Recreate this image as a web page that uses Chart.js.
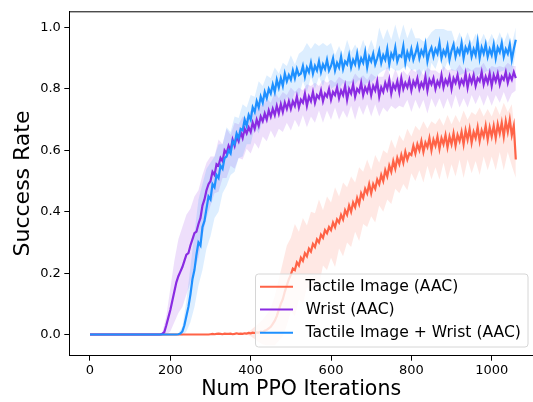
<!DOCTYPE html>
<html>
<head>
<meta charset="utf-8">
<script src="https://cdn.jsdelivr.net/npm/chart.js@4.4.1/dist/chart.umd.min.js"></script>
<style>
  html, body { margin: 0; padding: 0; background: #fff; overflow: hidden; }
  #wrap { width: 533px; height: 402px; }
</style>
</head>
<body>
<div id="wrap"><canvas id="ppoChart" width="533" height="402"></canvas></div>
<script>
// PPO iterations of the line samples (every 5)
const lineIterations = [
  0, 5, 10, 15, 20, 25, 30, 35, 40, 45, 50, 55, 60, 65, 70, 75, 80, 85, 90, 95,
  100, 105, 110, 115, 120, 125, 130, 135, 140, 145, 150, 155, 160, 165, 170, 175, 180, 185, 190, 195,
  200, 205, 210, 215, 220, 225, 230, 235, 240, 245, 250, 255, 260, 265, 270, 275, 280, 285, 290, 295,
  300, 305, 310, 315, 320, 325, 330, 335, 340, 345, 350, 355, 360, 365, 370, 375, 380, 385, 390, 395,
  400, 405, 410, 415, 420, 425, 430, 435, 440, 445, 450, 455, 460, 465, 470, 475, 480, 485, 490, 495,
  500, 505, 510, 515, 520, 525, 530, 535, 540, 545, 550, 555, 560, 565, 570, 575, 580, 585, 590, 595,
  600, 605, 610, 615, 620, 625, 630, 635, 640, 645, 650, 655, 660, 665, 670, 675, 680, 685, 690, 695,
  700, 705, 710, 715, 720, 725, 730, 735, 740, 745, 750, 755, 760, 765, 770, 775, 780, 785, 790, 795,
  800, 805, 810, 815, 820, 825, 830, 835, 840, 845, 850, 855, 860, 865, 870, 875, 880, 885, 890, 895,
  900, 905, 910, 915, 920, 925, 930, 935, 940, 945, 950, 955, 960, 965, 970, 975, 980, 985, 990, 995,
  1000, 1005, 1010, 1015, 1020, 1025, 1030, 1035, 1040, 1045, 1050, 1055, 1060
];

// PPO iterations of the spread samples (every 10)
const bandIterations = [
  0, 10, 20, 30, 40, 50, 60, 70, 80, 90,
  100, 110, 120, 130, 140, 150, 160, 170, 180, 190,
  200, 210, 220, 230, 240, 250, 260, 270, 280, 290,
  300, 310, 320, 330, 340, 350, 360, 370, 380, 390,
  400, 410, 420, 430, 440, 450, 460, 470, 480, 490,
  500, 510, 520, 530, 540, 550, 560, 570, 580, 590,
  600, 610, 620, 630, 640, 650, 660, 670, 680, 690,
  700, 710, 720, 730, 740, 750, 760, 770, 780, 790,
  800, 810, 820, 830, 840, 850, 860, 870, 880, 890,
  900, 910, 920, 930, 940, 950, 960, 970, 980, 990,
  1000, 1010, 1020, 1030, 1040, 1050, 1060
];

const seriesLabels = ['Tactile Image (AAC)', 'Wrist (AAC)', 'Tactile Image + Wrist (AAC)'];

// Tactile Image (AAC) - success rate
const tactileMean = [
  0, 0, 0, 0, 0, 0, 0, 0, 0, 0, 0, 0, 0, 0, 0, 0, 0, 0, 0, 0,
  0, 0, 0, 0, 0, 0, 0, 0, 0, 0, 0, 0, 0, 0, 0, 0, 0, 0, 0, 0,
  0, 0, 0, 0, 0, 0, 0, 0, 0, 0, 0, 0, 0, 0, 0, 0, 0, 0, 0, 0,
  0.001, 0.002, 0.001, 0.002, 0.003, 0.002, 0.001, 0.003, 0.002, 0.002, 0.003, 0.001, 0.002, 0.004, 0.002, 0.003, 0.002, 0.004, 0.003, 0.005,
  0.004, 0.006, 0.005, 0.007, 0.006, 0.009, 0.008, 0.012, 0.015, 0.02, 0.025, 0.035, 0.045, 0.06, 0.08, 0.1, 0.115, 0.14, 0.16, 0.18,
  0.195, 0.215, 0.21, 0.235, 0.225, 0.25, 0.24, 0.265, 0.255, 0.28, 0.27, 0.295, 0.285, 0.31, 0.3, 0.325, 0.315, 0.34, 0.33, 0.35,
  0.34, 0.365, 0.35, 0.375, 0.365, 0.39, 0.375, 0.405, 0.39, 0.42, 0.4, 0.43, 0.415, 0.445, 0.425, 0.46, 0.445, 0.475, 0.46, 0.49,
  0.46, 0.49, 0.475, 0.505, 0.49, 0.52, 0.5, 0.535, 0.515, 0.55, 0.53, 0.565, 0.54, 0.575, 0.555, 0.585, 0.56, 0.595, 0.57, 0.59,
  0.585, 0.615, 0.59, 0.62, 0.6, 0.63, 0.595, 0.625, 0.61, 0.64, 0.6, 0.635, 0.615, 0.645, 0.605, 0.64, 0.62, 0.65, 0.61, 0.645,
  0.62, 0.655, 0.615, 0.65, 0.63, 0.66, 0.62, 0.665, 0.635, 0.67, 0.625, 0.66, 0.64, 0.675, 0.63, 0.665, 0.645, 0.68, 0.635, 0.675,
  0.645, 0.68, 0.64, 0.685, 0.655, 0.69, 0.645, 0.695, 0.66, 0.7, 0.65, 0.68, 0.57
];
const tactileStd = [
  0, 0, 0, 0, 0, 0, 0, 0, 0, 0,
  0, 0, 0, 0, 0, 0, 0, 0, 0, 0,
  0, 0, 0, 0, 0, 0, 0, 0, 0, 0,
  0.001, 0.002, 0.001, 0.002, 0.002, 0.001, 0.002, 0.003, 0.002, 0.003,
  0.01, 0.02, 0.03, 0.04, 0.05, 0.06, 0.08, 0.10, 0.12, 0.13,
  0.12, 0.15, 0.11, 0.14, 0.10, 0.13, 0.11, 0.14, 0.09, 0.12,
  0.09, 0.13, 0.085, 0.12, 0.09, 0.115, 0.08, 0.12, 0.085, 0.11,
  0.075, 0.11, 0.07, 0.1, 0.075, 0.105, 0.065, 0.095, 0.07, 0.1,
  0.06, 0.09, 0.065, 0.1, 0.06, 0.095, 0.07, 0.1, 0.06, 0.105,
  0.065, 0.1, 0.06, 0.11, 0.065, 0.1, 0.075, 0.11, 0.065, 0.1,
  0.065, 0.105, 0.06, 0.11, 0.065, 0.1, 0.06
];

// Wrist (AAC) - success rate
const wristMean = [
  0, 0, 0, 0, 0, 0, 0, 0, 0, 0, 0, 0, 0, 0, 0, 0, 0, 0, 0, 0,
  0, 0, 0, 0, 0, 0, 0, 0, 0, 0, 0, 0, 0, 0, 0, 0, 0.002, 0.008, 0.03, 0.055,
  0.08, 0.11, 0.14, 0.17, 0.19, 0.205, 0.22, 0.24, 0.26, 0.265, 0.29, 0.31, 0.33, 0.335, 0.36, 0.38, 0.42, 0.44, 0.47, 0.49,
  0.5, 0.53, 0.52, 0.555, 0.55, 0.575, 0.565, 0.6, 0.59, 0.615, 0.6, 0.635, 0.615, 0.645, 0.63, 0.66, 0.64, 0.67, 0.655, 0.675,
  0.66, 0.69, 0.67, 0.7, 0.68, 0.71, 0.695, 0.72, 0.7, 0.73, 0.71, 0.735, 0.715, 0.745, 0.72, 0.75, 0.725, 0.755, 0.735, 0.76,
  0.735, 0.76, 0.745, 0.775, 0.74, 0.765, 0.755, 0.785, 0.745, 0.775, 0.76, 0.79, 0.755, 0.78, 0.77, 0.795, 0.76, 0.785, 0.775, 0.8,
  0.765, 0.79, 0.78, 0.805, 0.77, 0.795, 0.78, 0.81, 0.765, 0.8, 0.785, 0.815, 0.775, 0.8, 0.79, 0.82, 0.78, 0.805, 0.79, 0.815,
  0.78, 0.81, 0.795, 0.825, 0.775, 0.805, 0.79, 0.82, 0.8, 0.83, 0.785, 0.815, 0.8, 0.825, 0.79, 0.835, 0.8, 0.82, 0.805, 0.83,
  0.795, 0.825, 0.81, 0.835, 0.8, 0.82, 0.805, 0.84, 0.795, 0.83, 0.815, 0.835, 0.8, 0.825, 0.81, 0.845, 0.805, 0.83, 0.815, 0.84,
  0.8, 0.835, 0.82, 0.845, 0.81, 0.83, 0.815, 0.85, 0.805, 0.84, 0.82, 0.845, 0.81, 0.835, 0.825, 0.855, 0.815, 0.84, 0.82, 0.85,
  0.81, 0.845, 0.825, 0.85, 0.815, 0.84, 0.83, 0.855, 0.82, 0.845, 0.83, 0.855, 0.835
];
const wristStd = [
  0, 0, 0, 0, 0, 0, 0, 0, 0, 0,
  0, 0, 0, 0, 0, 0, 0, 0, 0.005, 0.03,
  0.07, 0.10, 0.12, 0.13, 0.13, 0.12, 0.12, 0.11, 0.10, 0.09,
  0.08, 0.06, 0.085, 0.055, 0.08, 0.05, 0.075, 0.055, 0.07, 0.05,
  0.07, 0.045, 0.075, 0.05, 0.07, 0.045, 0.075, 0.05, 0.065, 0.045,
  0.07, 0.045, 0.065, 0.04, 0.07, 0.05, 0.065, 0.04, 0.07, 0.045,
  0.065, 0.04, 0.07, 0.05, 0.06, 0.04, 0.075, 0.045, 0.065, 0.04,
  0.07, 0.045, 0.065, 0.05, 0.075, 0.04, 0.065, 0.045, 0.06, 0.04,
  0.07, 0.045, 0.065, 0.04, 0.075, 0.045, 0.06, 0.04, 0.07, 0.045,
  0.065, 0.04, 0.07, 0.045, 0.065, 0.04, 0.06, 0.045, 0.07, 0.04,
  0.065, 0.045, 0.06, 0.04, 0.065, 0.045, 0.04
];

// Tactile Image + Wrist (AAC) - success rate
const comboMean = [
  0, 0, 0, 0, 0, 0, 0, 0, 0, 0, 0, 0, 0, 0, 0, 0, 0, 0, 0, 0,
  0, 0, 0, 0, 0, 0, 0, 0, 0, 0, 0, 0, 0, 0, 0, 0, 0, 0, 0, 0,
  0, 0, 0, 0, 0.001, 0.003, 0.01, 0.03, 0.06, 0.09, 0.13, 0.18, 0.21, 0.26, 0.30, 0.29, 0.35, 0.37, 0.41, 0.45,
  0.44, 0.49, 0.48, 0.52, 0.51, 0.55, 0.54, 0.575, 0.58, 0.6, 0.59, 0.63, 0.62, 0.655, 0.64, 0.67, 0.665, 0.7, 0.68, 0.715,
  0.70, 0.74, 0.725, 0.76, 0.74, 0.775, 0.755, 0.79, 0.77, 0.80, 0.785, 0.815, 0.79, 0.83, 0.805, 0.835, 0.81, 0.85, 0.825, 0.845,
  0.83, 0.86, 0.835, 0.865, 0.845, 0.85, 0.875, 0.84, 0.87, 0.855, 0.885, 0.85, 0.875, 0.86, 0.89, 0.855, 0.88, 0.865, 0.895, 0.86,
  0.875, 0.9, 0.86, 0.885, 0.87, 0.905, 0.865, 0.89, 0.88, 0.91, 0.87, 0.895, 0.88, 0.915, 0.875, 0.9, 0.885, 0.92, 0.87, 0.905,
  0.89, 0.915, 0.88, 0.9, 0.925, 0.885, 0.91, 0.895, 0.93, 0.88, 0.915, 0.9, 0.935, 0.89, 0.91, 0.905, 0.94, 0.885, 0.92, 0.9,
  0.93, 0.895, 0.915, 0.94, 0.9, 0.925, 0.91, 0.945, 0.89, 0.92, 0.935, 0.905, 0.93, 0.915, 0.95, 0.9, 0.925, 0.91, 0.94, 0.895,
  0.925, 0.945, 0.905, 0.93, 0.915, 0.95, 0.9, 0.935, 0.92, 0.945, 0.905, 0.93, 0.91, 0.955, 0.9, 0.935, 0.915, 0.945, 0.905, 0.93,
  0.91, 0.945, 0.9, 0.935, 0.92, 0.95, 0.905, 0.93, 0.915, 0.945, 0.895, 0.93, 0.96
];
const comboStd = [
  0, 0, 0, 0, 0, 0, 0, 0, 0, 0,
  0, 0, 0, 0, 0, 0, 0, 0, 0, 0,
  0, 0, 0.003, 0.015, 0.05, 0.09, 0.12, 0.14, 0.14, 0.13,
  0.12, 0.1, 0.11, 0.08, 0.095, 0.07, 0.09, 0.065, 0.085, 0.06,
  0.08, 0.05, 0.085, 0.055, 0.075, 0.05, 0.08, 0.045, 0.075, 0.05,
  0.08, 0.045, 0.07, 0.05, 0.08, 0.045, 0.075, 0.05, 0.07, 0.045,
  0.075, 0.05, 0.07, 0.045, 0.08, 0.05, 0.065, 0.045, 0.075, 0.05,
  0.07, 0.045, 0.075, 0.05, 0.065, 0.045, 0.075, 0.05, 0.07, 0.045,
  0.07, 0.05, 0.065, 0.045, 0.075, 0.05, 0.065, 0.045, 0.07, 0.05,
  0.065, 0.045, 0.07, 0.05, 0.065, 0.045, 0.07, 0.05, 0.065, 0.045,
  0.07, 0.05, 0.065, 0.045, 0.07, 0.05, 0.04
];

const xTicks = [0, 200, 400, 600, 800, 1000];
const yTicks = [0.0, 0.2, 0.4, 0.6, 0.8, 1.0];

const lineColors = ['#FF6347', '#8A2BE2', '#1E90FF'];
const bandColors = ['rgba(255,99,71,0.15)', 'rgba(138,43,226,0.15)', 'rgba(30,144,255,0.15)'];

const FONT = "'DejaVu Sans', sans-serif";

const means = [tactileMean, wristMean, comboMean];
const stds = [tactileStd, wristStd, comboStd];

function linePoints(arr) {
    return lineIterations.map((x, i) => ({ x: x, y: arr[i] }));
}
// band centre = line value at the same iteration
function bandPoints(mean, std, sign) {
    return bandIterations.map((x, i) => ({ x: x, y: mean[lineIterations.indexOf(x)] + sign * std[i] }));
}

const datasets = [];
means.forEach((m, k) => {
    datasets.push({
        label: seriesLabels[k],
        data: linePoints(m),
        borderColor: lineColors[k],
        borderWidth: 2.2,
        pointRadius: 0,
        tension: 0,
        fill: false,
        order: 2 - k
    });
});
means.forEach((m, k) => {
    const upIdx = datasets.length;
    datasets.push({
        label: 'band-hi-' + k,
        data: bandPoints(m, stds[k], 1),
        borderWidth: 0,
        borderColor: 'rgba(0,0,0,0)',
        backgroundColor: bandColors[k],
        pointRadius: 0,
        tension: 0,
        fill: upIdx + 1,
        order: 10 - k
    });
    datasets.push({
        label: 'band-lo-' + k,
        data: bandPoints(m, stds[k], -1),
        borderWidth: 0,
        borderColor: 'rgba(0,0,0,0)',
        pointRadius: 0,
        tension: 0,
        fill: false,
        order: 10 - k
    });
});

/* top spine + legend, matplotlib style */
const framePlugin = {
    id: 'frame',
    afterDraw(chart) {
        const ctx = chart.ctx;
        const a = chart.chartArea;
        ctx.save();
        ctx.strokeStyle = '#000';
        ctx.lineWidth = 1;
        ctx.beginPath();
        ctx.moveTo(a.left, a.top + 0.5);
        ctx.lineTo(a.right, a.top + 0.5);
        ctx.stroke();

        // legend box
        const bx = 255.5, by = 274, bw = 272.5, bh = 73, r = 3;
        ctx.fillStyle = 'rgba(255,255,255,0.8)';
        ctx.strokeStyle = '#d6d6d6';
        ctx.beginPath();
        ctx.roundRect(bx, by, bw, bh, r);
        ctx.fill();
        ctx.stroke();

        const rows = [286.7, 309.5, 332.7];
        ctx.font = '15.6px ' + FONT;
        ctx.textBaseline = 'middle';
        ctx.textAlign = 'left';
        seriesLabels.forEach((lab, k) => {
            ctx.strokeStyle = lineColors[k];
            ctx.lineWidth = 2;
            ctx.beginPath();
            ctx.moveTo(260, rows[k]);
            ctx.lineTo(293, rows[k]);
            ctx.stroke();
            ctx.fillStyle = '#000';
            ctx.fillText(lab, 305.5, rows[k] + 0.5);
        });
        ctx.restore();
    }
};

const ctx = document.getElementById('ppoChart').getContext('2d');

new Chart(ctx, {
    type: 'line',
    data: { datasets: datasets },
    options: {
        responsive: false,
        animation: false,
        devicePixelRatio: 1,
        layout: { padding: { left: 0, top: 7.5, right: 0, bottom: 0 } },
        plugins: {
            legend: { display: false },
            tooltip: { enabled: false }
        },
        scales: {
            x: {
                type: 'linear',
                min: -51.5,
                max: 1102.8,
                afterFit(scale) { scale.height = 46.3; },
                afterBuildTicks(scale) { scale.ticks = xTicks.map(v => ({ value: v })); },
                grid: { drawOnChartArea: false, drawTicks: true, tickLength: 5, color: '#000' },
                border: { color: '#000', width: 1 },
                ticks: {
                    color: '#000',
                    padding: 2,
                    maxRotation: 0,
                    font: { family: FONT, size: 13 },
                    callback: v => String(v)
                },
                title: {
                    display: true,
                    text: 'Num PPO Iterations',
                    color: '#000',
                    font: { family: FONT, size: 20.5 },
                    padding: { top: 0, bottom: 0 }
                }
            },
            y: {
                type: 'linear',
                min: -0.069,
                max: 1.053,
                afterFit(scale) { scale.width = 69.3; },
                afterBuildTicks(scale) { scale.ticks = yTicks.map(v => ({ value: v })); },
                grid: { drawOnChartArea: false, drawTicks: true, tickLength: 5, color: '#000' },
                border: { color: '#000', width: 1 },
                ticks: {
                    color: '#000',
                    padding: 3.5,
                    font: { family: FONT, size: 13 },
                    callback: v => v.toFixed(1)
                },
                title: {
                    display: true,
                    text: 'Success Rate',
                    color: '#000',
                    font: { family: FONT, size: 22 },
                    padding: { top: 10, bottom: 0 }
                }
            }
        }
    },
    plugins: [framePlugin]
});
</script>
</body>
</html>
